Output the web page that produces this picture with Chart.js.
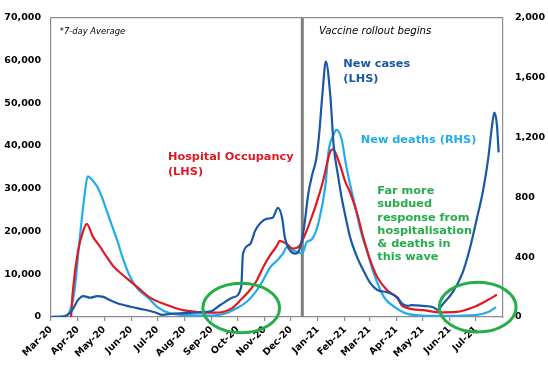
<!DOCTYPE html>
<html><head><meta charset="utf-8">
<script src="https://cdn.jsdelivr.net/npm/chart.js@4.4.1/dist/chart.umd.min.js"></script>
<style>html,body{margin:0;padding:0;background:#fff}canvas{display:block}</style>
</head><body>
<canvas id="c" width="548" height="366"></canvas>
<script>
// ---- data ----
const monthTicks = ['2020-03-01','2020-04-01','2020-05-01','2020-06-01','2020-07-01','2020-08-01','2020-09-01','2020-10-01','2020-11-01','2020-12-01','2021-01-01','2021-02-01','2021-03-01','2021-04-01','2021-05-01','2021-06-01','2021-07-01'];
const tickLabels = ['Mar-20','Apr-20','May-20','Jun-20','Jul-20','Aug-20','Sep-20','Oct-20','Nov-20','Dec-20','Jan-21','Feb-21','Mar-21','Apr-21','May-21','Jun-21','Jul-21'];
const leftTicks = [0,10000,20000,30000,40000,50000,60000,70000];
const rightTicks = [0,400,800,1200,1600,2000];

const casesDates = ['2020-03-01','2020-03-15','2020-03-20','2020-03-25','2020-04-01','2020-04-07','2020-04-15','2020-04-23','2020-04-30','2020-05-08','2020-05-16','2020-05-31','2020-06-14','2020-06-28','2020-07-07','2020-07-15','2020-07-31','2020-08-19','2020-08-31','2020-09-11','2020-09-26','2020-10-05','2020-10-07','2020-10-15','2020-10-21','2020-10-27','2020-11-04','2020-11-10','2020-11-16','2020-11-21','2020-11-24','2020-11-30','2020-12-06','2020-12-11','2020-12-16','2020-12-21','2020-12-25','2020-12-30','2021-01-02','2021-01-06','2021-01-10','2021-01-15','2021-01-19','2021-01-24','2021-01-28','2021-02-02','2021-02-07','2021-02-15','2021-02-22','2021-03-02','2021-03-10','2021-03-21','2021-04-02','2021-04-07','2021-04-14','2021-04-18','2021-05-01','2021-05-13','2021-05-18','2021-05-24','2021-06-05','2021-06-16','2021-06-24','2021-07-02','2021-07-09','2021-07-15','2021-07-19','2021-07-22','2021-07-25','2021-07-27'];
const casesValues = [0,100,500,1500,4000,4900,4500,4900,4700,3900,3200,2400,1800,1100,500,700,900,1100,1300,2800,4600,7000,14800,17000,20200,22000,23000,23200,25500,23000,18600,15500,14800,16000,21000,29000,33000,37000,42000,52000,59800,52000,40000,33000,28000,23000,18500,13900,10900,7900,6300,5800,4600,3200,2600,2800,2600,2300,1700,3000,6000,10500,16000,23000,29400,37000,44000,47800,45000,38500];

const hospDates = ['2020-03-24','2020-03-26','2020-04-01','2020-04-07','2020-04-11','2020-04-18','2020-04-26','2020-05-04','2020-05-11','2020-05-23','2020-06-08','2020-06-22','2020-07-12','2020-07-30','2020-08-19','2020-09-05','2020-09-16','2020-09-24','2020-10-04','2020-10-15','2020-10-23','2020-10-30','2020-11-07','2020-11-15','2020-11-18','2020-11-26','2020-12-03','2020-12-11','2020-12-19','2020-12-25','2020-12-31','2021-01-07','2021-01-15','2021-01-18','2021-01-26','2021-02-01','2021-02-07','2021-02-15','2021-02-22','2021-03-02','2021-03-10','2021-03-21','2021-04-02','2021-04-08','2021-05-01','2021-05-21','2021-06-09','2021-06-28','2021-07-14','2021-07-25'];
const hospValues = [0,6000,15500,20200,21800,18800,16500,14000,12000,9700,7000,4600,2800,1600,1100,1000,1300,2000,3900,6300,8600,11600,14400,16700,17800,17100,16000,16700,20200,23500,27100,32000,38700,39200,35700,31800,29000,24100,18500,13200,9300,6300,4400,2500,1600,1100,1200,2300,3900,5200];

const deathsDates = ['2020-03-01','2020-03-15','2020-03-23','2020-03-28','2020-04-03','2020-04-09','2020-04-12','2020-04-18','2020-04-24','2020-04-30','2020-05-08','2020-05-16','2020-05-23','2020-05-31','2020-06-08','2020-06-20','2020-07-01','2020-07-15','2020-08-07','2020-09-02','2020-09-18','2020-09-30','2020-10-11','2020-10-23','2020-10-30','2020-11-07','2020-11-15','2020-11-22','2020-11-26','2020-12-03','2020-12-11','2020-12-14','2020-12-19','2020-12-25','2021-01-02','2021-01-10','2021-01-13','2021-01-19','2021-01-22','2021-01-28','2021-02-02','2021-02-07','2021-02-12','2021-02-19','2021-02-27','2021-03-06','2021-03-18','2021-03-30','2021-04-11','2021-04-29','2021-05-30','2021-06-30','2021-07-15','2021-07-24'];
const deathsValues = [0,5,46,180,530,840,940,910,860,775,640,510,380,265,190,130,66,26,12,10,26,60,100,180,245,330,377,425,465,445,430,425,500,520,640,905,1105,1220,1250,1190,1020,880,755,575,425,290,130,66,26,10,8,13,33,66];

const vaccineDate = '2020-12-14';
const circleDates = ['2020-10-05','2021-07-03'];
const circleValues = [2100,2300];

// ---- helpers ----
const day = s => (Date.UTC(+s.slice(0,4), +s.slice(5,7)-1, +s.slice(8,10)) - Date.UTC(2020,2,1)) / 864e5;
const pts = (ds, vs) => ds.map((d,i) => ({x: day(d), y: vs[i]}));

const C_CASES = '#1a58a6', C_HOSP = '#de1a22', C_DEATHS = '#21acea', C_GREEN = '#25ad4a', GRAY = '#8c8c8c';
const BOLD = 'bold 11.3px "DejaVu Sans"';

const notes = [
  {t:'*7-day Average', d:'2020-03-11', v:66700, c:'#000', f:'oblique 8.4px "DejaVu Sans"'},
  {t:'Vaccine rollout begins', d:'2021-01-02', v:66900, c:'#000', f:'oblique 10.2px "DejaVu Sans"'},
  {t:'New cases', d:'2021-01-30', v:59100, c:C_CASES, f:BOLD},
  {t:'(LHS)', d:'2021-01-30', v:55700, c:C_CASES, f:BOLD},
  {t:'Hospital Occupancy', d:'2020-07-13', v:37400, c:C_HOSP, f:BOLD},
  {t:'(LHS)', d:'2020-07-13', v:34000, c:C_HOSP, f:BOLD},
  {t:'New deaths (RHS)', d:'2021-02-19', v:41300, c:C_DEATHS, f:BOLD},
  {t:'Far more', d:'2021-03-10', v:29450, c:C_GREEN, f:BOLD},
  {t:'subdued', d:'2021-03-10', v:26350, c:C_GREEN, f:BOLD},
  {t:'response from', d:'2021-03-10', v:23250, c:C_GREEN, f:BOLD},
  {t:'hospitalisation', d:'2021-03-10', v:20150, c:C_GREEN, f:BOLD},
  {t:'& deaths in', d:'2021-03-10', v:17050, c:C_GREEN, f:BOLD},
  {t:'this wave', d:'2021-03-10', v:13950, c:C_GREEN, f:BOLD}
];

const overlay = {
  id: 'overlay',
  beforeDatasetsDraw(chart) {
    const {ctx, chartArea: a, scales: {x}} = chart;
    const px = x.getPixelForValue(day(vaccineDate));
    ctx.save();
    ctx.strokeStyle = '#7f7f7f'; ctx.lineWidth = 3;
    ctx.beginPath(); ctx.moveTo(px, a.top); ctx.lineTo(px, a.bottom); ctx.stroke();
    ctx.restore();
  },
  afterDraw(chart) {
    const {ctx, chartArea: a, scales: {x, y}} = chart;
    ctx.save();
    ctx.strokeStyle = GRAY; ctx.lineWidth = 1.2;
    ctx.beginPath(); ctx.moveTo(a.left, a.top); ctx.lineTo(a.right, a.top); ctx.stroke();
    ctx.textBaseline = 'middle'; ctx.textAlign = 'left';
    notes.forEach(n => {
      ctx.font = n.f; ctx.fillStyle = n.c;
      ctx.fillText(n.t, x.getPixelForValue(day(n.d)), y.getPixelForValue(n.v));
    });
    ctx.strokeStyle = C_GREEN; ctx.lineWidth = 3;
    circleDates.forEach((d, i) => {
      const cx = x.getPixelForValue(day(d));
      const cy = y.getPixelForValue(circleValues[i]);
      const rx = x.getPixelForValue(day(d) + 44) - cx;
      const ry = y.getPixelForValue(0) - y.getPixelForValue(5800);
      ctx.beginPath(); ctx.ellipse(cx, cy, rx, ry, 0, 0, Math.PI * 2); ctx.stroke();
    });
    ctx.restore();
  }
};

const lineDs = (label, data, color, axis) => ({
  label, data, yAxisID: axis, borderColor: color, borderWidth: 2.2,
  pointRadius: 0, fill: false, cubicInterpolationMode: 'monotone', tension: 0.4
});

new Chart(document.getElementById('c'), {
  type: 'line',
  data: {
    datasets: [
      lineDs('New cases (LHS)', pts(casesDates, casesValues), C_CASES, 'y'),
      lineDs('Hospital Occupancy (LHS)', pts(hospDates, hospValues), C_HOSP, 'y'),
      lineDs('New deaths (RHS)', pts(deathsDates, deathsValues), C_DEATHS, 'y2')
    ]
  },
  options: {
    responsive: false, animation: false, devicePixelRatio: 1,
    layout: {padding: {top: 15, left: 0, right: 0, bottom: 0}},
    plugins: {legend: {display: false}, tooltip: {enabled: false}},
    scales: {
      x: {
        type: 'linear', min: 0, max: day('2021-08-01'),
        afterBuildTicks: s => { s.ticks = monthTicks.map(d => ({value: day(d)})); },
        afterFit: s => { s.height = 49; },
        ticks: {
          autoSkip: false, maxRotation: 45, minRotation: 45, padding: 3,
          color: '#000', font: {family: 'DejaVu Sans', weight: 'bold', size: 9.5},
          callback: (v, i) => tickLabels[i]
        },
        grid: {display: true, drawOnChartArea: false, drawTicks: true, tickLength: 4, color: GRAY, lineWidth: 1.2},
        border: {display: true, color: GRAY, width: 1.2}
      },
      y: {
        position: 'left', min: 0, max: 70000,
        afterBuildTicks: s => { s.ticks = leftTicks.map(v => ({value: v})); },
        afterFit: s => { s.width = 51; },
        ticks: {padding: 10, color: '#000', font: {family: 'DejaVu Sans', weight: 'bold', size: 9.5},
          callback: v => v.toLocaleString('en-US')},
        grid: {display: false, drawTicks: false},
        border: {display: true, color: GRAY, width: 1.2}
      },
      y2: {
        position: 'right', min: 0, max: 2000,
        afterBuildTicks: s => { s.ticks = rightTicks.map(v => ({value: v})); },
        afterFit: s => { s.width = 45; },
        ticks: {padding: 12, color: '#000', font: {family: 'DejaVu Sans', weight: 'bold', size: 9.5},
          callback: v => v.toLocaleString('en-US')},
        grid: {display: false, drawTicks: false},
        border: {display: true, color: GRAY, width: 1.2}
      }
    }
  },
  plugins: [overlay]
});
</script>
</body></html>
